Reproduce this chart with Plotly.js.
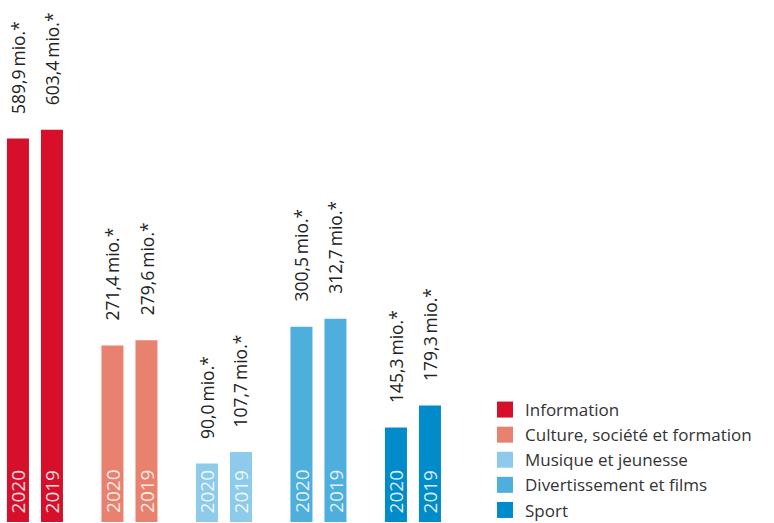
<!DOCTYPE html>
<html>
<head>
<meta charset="utf-8">
<script src="https://cdn.plot.ly/plotly-3.0.1.min.js"></script>
<style>html,body{margin:0;padding:0;background:#fff;}#chart{width:774px;height:523px;}</style>
</head>
<body>
<div id="chart"></div>
<script>
var categories = ["Information", "Culture, société et formation", "Musique et jeunesse", "Divertissement et films", "Sport"];
var years = ["2020", "2019"];
var values2020 = [589.9, 271.4, 90.0, 300.5, 145.3];
var values2019 = [603.4, 279.6, 107.7, 312.7, 179.3];
var colors = ["#d6102b", "#e8826f", "#8ecbea", "#4eaedc", "#018bcb"];

var halfGap = 0.18;   // offset of each year bar from group centre (axis units)
var barWidth = 0.233;

function fmt(v) { return v.toFixed(1).replace(".", ",") + "\u2009mio.*"; }

var traces = [];
var annotations = [];
categories.forEach(function (cat, i) {
  var xs = [i - halfGap, i + halfGap];
  var ys = [values2020[i], values2019[i]];
  traces.push({
    type: "bar", x: xs, y: ys, width: barWidth, name: cat,
    marker: {color: colors[i]}, showlegend: false, hoverinfo: "none"
  });
  xs.forEach(function (x, k) {
    annotations.push({
      x: x, y: ys[k], xref: "x", yref: "y", text: fmt(ys[k]), showarrow: false,
      textangle: -90, yanchor: "bottom", xanchor: "center", yshift: 23,
      font: {family: "Open Sans, sans-serif", size: 17.5, color: "#222"}
    });
    annotations.push({
      x: x, y: 0, xref: "x", yref: "y", text: years[k], showarrow: false,
      textangle: -90, yanchor: "bottom", xanchor: "center", yshift: 7,
      font: {family: "Open Sans, sans-serif", size: 19, color: "rgba(255,255,255,0.85)"}
    });
  });
});
// legend entries
categories.forEach(function (cat, i) {
  traces.push({
    type: "scatter", mode: "markers", x: [null], y: [null], name: cat,
    marker: {symbol: "square", size: 17, color: colors[i]}, hoverinfo: "none"
  });
});

var pxPerUnit = 94.5;
var layout = {
  width: 774, height: 523,
  margin: {l: 0, r: 0, t: 0, b: 1, pad: 0, autoexpand: false},
  paper_bgcolor: "#fff", plot_bgcolor: "#fff",
  xaxis: {visible: false, range: [-0.37, -0.37 + 774 / pxPerUnit], fixedrange: true},
  yaxis: {visible: false, range: [0, 803], fixedrange: true},
  showlegend: true,
  legend: {
    x: 485 / 774, xanchor: "left", y: (522 - 392) / 522, yanchor: "top",
    font: {family: "Open Sans, sans-serif", size: 17, color: "#333"},
    bgcolor: "rgba(0,0,0,0)", itemwidth: 30, tracegroupgap: 0
  },
  annotations: annotations
};
Plotly.newPlot("chart", traces, layout, {staticPlot: true, displayModeBar: false});
</script>
</body>
</html>
